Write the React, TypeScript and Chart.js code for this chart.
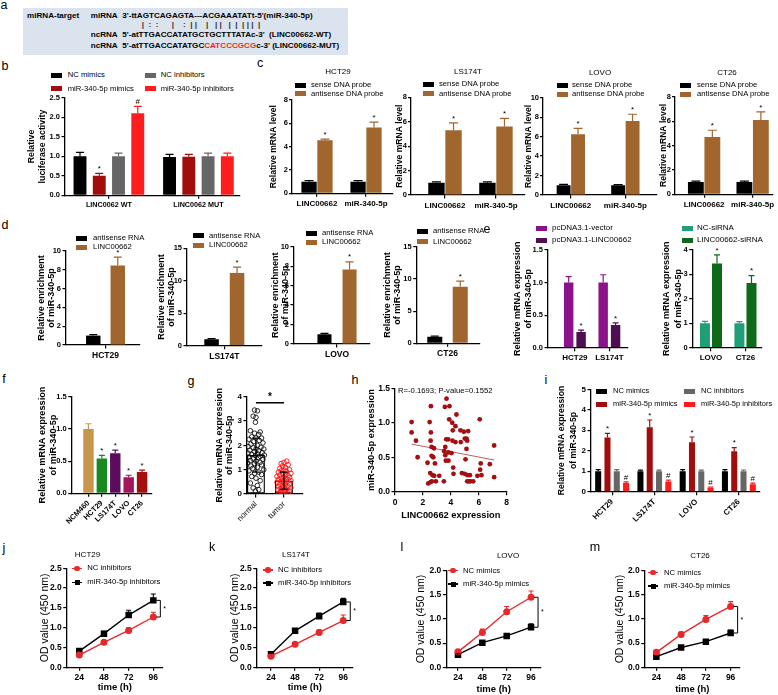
import React, { useEffect, useRef } from 'react';
import { Chart, registerables } from 'chart.js';
Chart.register(...registerables);

const FF = '"Liberation Sans", Arial, Helvetica, sans-serif';

// ================= DATA =================
// a: sequence alignment
const aMiRNA = "3'-ttAGTCAGAGTA---ACGAAATATt-5'(miR-340-5p)";
const aPairs = '|  :  :      |    :  | |    |   | |   |  |  | | |  |';
const aWT = "5'-atTTGACCATATGCTGCTTTATAc-3'  (LINC00662-WT)";
const aMUTpre = "5'-atTTGACCATATGC";
const aMUTred = 'CATCCCGCG';
const aMUTpost = "c-3' (LINC00662-MUT)";

// b: luciferase
const bGroups = ['LINC0062 WT', 'LINC0062 MUT'];
const bSeries = ['NC mimics', 'miR-340-5p mimics', 'NC inhibitors', 'miR-340-5p inhibitors'];
const bNCMimics = [1.0, 0.98];
const bNCMimicsErr = [0.1, 0.07];
const bMiMimics = [0.5, 0.99];
const bMiMimicsErr = [0.06, 0.06];
const bNCInhib = [1.0, 1.0];
const bNCInhibErr = [0.08, 0.08];
const bMiInhib = [2.1, 1.0];
const bMiInhibErr = [0.18, 0.08];
const bMiMimicsMarks = ['*', ''];
const bMiInhibMarks = ['#', ''];
const bYTicks = [0, 0.5, 1.0, 1.5, 2.0, 2.5];

// c: RNA pull-down
const cGroups = ['LINC00662', 'miR-340-5p'];
const cSeries = ['sense DNA probe', 'antisense DNA probe'];
const cSenseHCT29 = [1.0, 1.0];
const cSenseHCT29Err = [0.08, 0.08];
const cAntiHCT29 = [4.55, 5.65];
const cAntiHCT29Err = [0.1, 0.45];
const cSenseLS174T = [1.0, 1.0];
const cSenseLS174TErr = [0.07, 0.07];
const cAntiLS174T = [5.3, 5.6];
const cAntiLS174TErr = [0.6, 0.68];
const cSenseLOVO = [1.0, 1.0];
const cSenseLOVOErr = [0.1, 0.07];
const cAntiLOVO = [6.25, 7.6];
const cAntiLOVOErr = [0.6, 0.7];
const cSenseCT26 = [1.0, 1.0];
const cSenseCT26Err = [0.08, 0.08];
const cAntiCT26 = [4.7, 6.1];
const cAntiCT26Err = [0.55, 0.65];
const cMarks = ['*', '*'];
const cTicks8 = [0, 2, 4, 6, 8];
const cTicks10 = [0, 2, 4, 6, 8, 10];

// d: RIP enrichment
const dCells = ['HCT29', 'LS174T', 'LOVO', 'CT26'];
const dSeries = ['antisense RNA', 'LINC00662'];
const dAntisense = [1.0, 1.0, 1.0, 1.0];
const dAntisenseErr = [0.1, 0.1, 0.1, 0.1];
const dLINC = [8.45, 11.2, 7.65, 8.8];
const dLINCErr = [0.9, 0.9, 0.8, 0.85];
const dTicks10 = [0, 2, 4, 6, 8, 10];
const dTicks15 = [0, 5, 10, 15];

// e: overexpression / knockdown
const e1Groups = ['HCT29', 'LS174T'];
const e1Series = ['pcDNA3.1-vector', 'pcDNA3.1-LINC00662'];
const e1Vector = [1.0, 1.0];
const e1VectorErr = [0.09, 0.12];
const e1LINC = [0.24, 0.35];
const e1LINCErr = [0.03, 0.03];
const e2Groups = ['LOVO', 'CT26'];
const e2Series = ['NC-siRNA', 'LINC00662-siRNA'];
const e2NC = [1.0, 1.0];
const e2NCErr = [0.08, 0.07];
const e2Si = [3.45, 2.65];
const e2SiErr = [0.35, 0.3];
const e1Ticks = [0, 0.5, 1.0, 1.5];
const e2Ticks = [0, 1, 2, 3, 4];

// f: cell lines
const fCells = ['NCM460', 'HCT29', 'LS174T', 'LOVO', 'CT26'];
const fValues = [1.0, 0.54, 0.62, 0.25, 0.33];
const fErr = [0.08, 0.05, 0.05, 0.03, 0.03];
const fMarks = ['', '*', '*', '*', '*'];
const fTicks = [0, 0.5, 1.0, 1.5];

// g: tissues
const gGroups = ['normal', 'tumor'];
const gMeans = [1.6, 0.55];
const gSD = [0.7, 0.35];
const gNormalPts = [
  [-0.05, 3.45], [0.05, 3.42], [-0.1, 3.2], [0.0, 3.15], [-0.02, 2.95], [-0.2, 2.6], [0.15, 2.55], [-0.05, 2.5],
  [0.1, 2.45], [-0.15, 2.35], [0.2, 2.3], [0.0, 2.3], [-0.25, 2.25], [0.12, 2.2], [-0.08, 2.15], [0.25, 2.1],
  [-0.18, 2.05], [0.05, 2.0], [-0.28, 1.95], [0.18, 1.92], [-0.1, 1.9], [0.28, 1.85], [0.0, 1.85], [-0.22, 1.8],
  [0.1, 1.78], [-0.05, 1.75], [0.22, 1.7], [-0.28, 1.68], [0.05, 1.65], [-0.15, 1.62], [0.3, 1.6], [-0.02, 1.58],
  [0.15, 1.55], [-0.25, 1.52], [0.08, 1.5], [-0.1, 1.45], [0.25, 1.42], [-0.2, 1.38], [0.0, 1.35], [0.15, 1.3],
  [-0.3, 1.28], [-0.05, 1.25], [0.2, 1.2], [-0.18, 1.15], [0.05, 1.1], [-0.12, 1.05], [0.28, 1.0], [-0.25, 0.95],
  [0.1, 0.9], [-0.05, 0.85], [0.2, 0.8], [-0.15, 0.72], [0.0, 0.65], [0.15, 0.55], [-0.2, 0.45], [0.05, 0.35],
  [-0.1, 0.25], [0.1, 0.18], [-0.02, 0.12],
];
const gTumorPts = [
  [1.1, 1.35], [1.0, 1.3], [0.9, 1.25], [1.15, 1.2], [0.95, 1.15], [1.05, 1.1], [0.85, 1.05], [1.2, 1.0],
  [1.0, 0.98], [0.9, 0.95], [1.1, 0.92], [0.8, 0.9], [1.25, 0.85], [0.95, 0.85], [1.05, 0.8], [0.85, 0.78],
  [1.15, 0.75], [0.75, 0.72], [1.0, 0.7], [1.2, 0.68], [0.9, 0.65], [1.1, 0.62], [0.8, 0.6], [1.0, 0.58],
  [1.25, 0.55], [0.9, 0.52], [1.1, 0.5], [0.75, 0.48], [1.0, 0.45], [1.2, 0.42], [0.85, 0.4], [1.05, 0.38],
  [0.95, 0.35], [1.15, 0.32], [0.8, 0.3], [1.0, 0.28], [1.25, 0.25], [0.9, 0.22], [1.1, 0.2], [0.78, 0.18],
  [1.0, 0.15], [1.2, 0.12], [0.88, 0.1], [1.05, 0.08], [0.95, 0.05], [1.15, 0.04], [0.82, 0.03],
];
const gTicks = [0, 1, 2, 3, 4];

// h: correlation
const hPoints = [
  [1.19, 1.01], [1.19, 0.86], [1.5, 0.74], [1.62, 0.5],
  [2.57, 1.24], [2.48, 1.01], [2.57, 0.86], [2.55, 0.74], [2.62, 0.65], [2.79, 0.63], [2.62, 0.52], [2.74, 0.5],
  [2.33, 0.42], [2.86, 0.41], [2.52, 0.27], [2.69, 0.24], [2.81, 0.23], [2.38, 0.12], [2.55, 0.14], [2.64, 0.15],
  [2.93, 0.15], [3.17, 0.23], [3.5, 0.15],
  [3.69, 1.35], [3.57, 1.23], [3.9, 1.24], [4.4, 1.12], [3.88, 1.05], [4.1, 1.0], [4.33, 0.95], [3.67, 0.76],
  [3.81, 0.76], [4.14, 0.89], [4.12, 0.74], [4.33, 0.72], [3.52, 0.59], [3.6, 0.65], [3.83, 0.57], [4.05, 0.56],
  [3.6, 0.53], [3.64, 0.45], [3.83, 0.45], [4.17, 0.35], [4.19, 0.26],
  [4.69, 0.89], [4.93, 0.87], [5.24, 0.88], [5.0, 0.77], [5.12, 0.77], [5.17, 0.74], [4.71, 0.72], [5.12, 0.62],
  [5.05, 0.47], [4.79, 0.27], [5.0, 0.26], [5.19, 0.24], [5.36, 0.24], [5.17, 0.15], [5.29, 0.15], [5.4, 0.15],
  [5.6, 0.15], [5.9, 0.23], [6.19, 0.24], [6.07, 1.05], [6.14, 0.41], [6.1, 0.32],
  [7.1, 0.67], [6.79, 0.4], [7.1, 0.21],
];
const hFit = [[1.2, 0.69], [7.1, 0.46]];
const hXTicks = [0, 2, 4, 6, 8];
const hYTicks = [0, 0.5, 1.0, 1.5];

// i: mimics / inhibitors
const iGroups = ['HCT29', 'LS174T', 'LOVO', 'CT26'];
const iNCMimics = [1.0, 1.0, 1.0, 1.0];
const iNCMimicsErr = [0.08, 0.05, 0.08, 0.08];
const iMiMimics = [2.65, 3.15, 2.42, 1.97];
const iMiMimicsErr = [0.2, 0.35, 0.25, 0.18];
const iNCInhib = [1.0, 1.0, 1.0, 1.0];
const iNCInhibErr = [0.08, 0.05, 0.05, 0.06];
const iMiInhib = [0.43, 0.5, 0.2, 0.36];
const iMiInhibErr = [0.05, 0.07, 0.03, 0.06];
const iMimicMarks = ['*', '*', '*', '*'];
const iInhibMarks = ['#', '#', '#', '#'];
const iTicks = [0, 1, 2, 3, 4, 5];

// j-m: CCK-8 growth curves
const times = [24, 48, 72, 96];
const jNC = [0.31, 0.63, 0.93, 1.27];
const jNCErr = [0.03, 0.04, 0.07, 0.12];
const jInhib = [0.41, 0.85, 1.32, 1.69];
const jInhibErr = [0.03, 0.06, 0.12, 0.16];
const kNC = [0.28, 0.58, 0.88, 1.18];
const kNCErr = [0.03, 0.04, 0.07, 0.14];
const kInhib = [0.33, 0.92, 1.29, 1.65];
const kInhibErr = [0.03, 0.06, 0.08, 0.09];
const lNC = [0.32, 0.72, 1.15, 1.45];
const lNCErr = [0.03, 0.07, 0.11, 0.13];
const lMimics = [0.26, 0.51, 0.65, 0.83];
const lMimicsErr = [0.02, 0.03, 0.04, 0.07];
const mNC = [0.31, 0.68, 0.99, 1.26];
const mNCErr = [0.03, 0.05, 0.08, 0.1];
const mMimics = [0.22, 0.41, 0.53, 0.71];
const mMimicsErr = [0.02, 0.04, 0.04, 0.06];
const jkTicks = [0, 0.5, 1.0, 1.5, 2.0, 2.5];
const lmTicks = [0, 0.5, 1.0, 1.5, 2.0];

// ================= STYLE =================
const BLACK = '#000000';
const DKRED = '#a10d0d';
const GREY = '#666666';
const RED = '#ff1c1c';
const BROWN = '#a0662e';
const PURPLE = '#8c128c';
const DKPURPLE = '#4e0f50';
const TEAL = '#1f9f78';
const DKGREEN = '#0d6a18';
const LRED = '#e8282b';
const DOTRED = '#a50f12';
const F_COLORS = ['#c8954c', '#178a22', '#5c0c5c', '#a3155e', '#a41010'];

const fix1 = (v: number) => v.toFixed(1);

// ================= PLUGINS =================
const errPlugin = {
  id: 'errbars',
  afterDatasetsDraw(chart: any) {
    const ctx = chart.ctx;
    chart.data.datasets.forEach((ds: any, di: number) => {
      if (!ds.errors) return;
      const meta = chart.getDatasetMeta(di);
      const ys = chart.scales[meta.yAxisID];
      meta.data.forEach((el: any, i: number) => {
        const e = ds.errors[i];
        if (e == null) return;
        const raw = ds.data[i];
        const v = typeof raw === 'number' ? raw : raw.y;
        const x = el.x;
        const yv = ys.getPixelForValue(v);
        const yt = ys.getPixelForValue(v + e);
        const yb = ds.errBoth ? ys.getPixelForValue(v - e) : yv;
        const cap = (ds.errCap ?? 6) / 2;
        const col = ds.errColor ?? (Array.isArray(ds.backgroundColor) ? ds.backgroundColor[i] : ds.backgroundColor);
        ctx.save();
        ctx.strokeStyle = col;
        ctx.lineWidth = ds.errWidth ?? 1.2;
        ctx.beginPath();
        ctx.moveTo(x, yb);
        ctx.lineTo(x, yt);
        ctx.moveTo(x - cap, yt);
        ctx.lineTo(x + cap, yt);
        if (ds.errBoth) {
          ctx.moveTo(x - cap, yb);
          ctx.lineTo(x + cap, yb);
        }
        ctx.stroke();
        const m = ds.marks && ds.marks[i];
        if (m) {
          ctx.fillStyle = '#000';
          ctx.font = `${ds.markSize ?? 8}px ${FF}`;
          ctx.textAlign = 'center';
          ctx.textBaseline = 'bottom';
          ctx.fillText(m, x, yt - 0.5);
        }
        ctx.restore();
      });
    });
  },
};

const annoPlugin = {
  id: 'anno',
  afterDatasetsDraw(chart: any, _args: any, opts: any) {
    const ctx = chart.ctx;
    const xs = chart.scales.x;
    const ys = chart.scales.y;
    if (opts && opts.sig) {
      const s = opts.sig;
      const xa = xs.getPixelForValue(s.x0);
      const xb = xs.getPixelForValue(s.x1);
      const y = ys.getPixelForValue(s.y);
      ctx.save();
      ctx.strokeStyle = '#000';
      ctx.lineWidth = 1.5;
      ctx.beginPath();
      ctx.moveTo(xa, y);
      ctx.lineTo(xb, y);
      ctx.stroke();
      ctx.fillStyle = '#000';
      ctx.font = `bold 10px ${FF}`;
      ctx.textAlign = 'center';
      ctx.textBaseline = 'bottom';
      ctx.fillText(s.text, (xa + xb) / 2, y - 1);
      ctx.restore();
    }
    if (opts && opts.bracket) {
      const b = opts.bracket;
      const px = xs.getPixelForValue(b.x) + b.dx;
      const ya = ys.getPixelForValue(b.v1);
      const yb = ys.getPixelForValue(b.v2);
      ctx.save();
      ctx.strokeStyle = '#000';
      ctx.lineWidth = 1;
      ctx.beginPath();
      ctx.moveTo(px - b.w, ya);
      ctx.lineTo(px, ya);
      ctx.lineTo(px, yb);
      ctx.lineTo(px - b.w, yb);
      ctx.stroke();
      ctx.fillStyle = '#000';
      ctx.font = `7px ${FF}`;
      ctx.textAlign = 'left';
      ctx.textBaseline = 'middle';
      ctx.fillText(b.text, px + 3, (ya + yb) / 2);
      ctx.restore();
    }
  },
};

// ================= BUILDER =================
type Ax = {
  min: number; max: number; ticks: number[]; label?: (v: number) => string;
  size?: number; weight?: string; rotate?: number; pad?: number; tickLen?: number;
  title?: string | string[]; tSize?: number; tWeight?: string; tLH?: number; titleY?: number;
};

function build(o: any) {
  const [x0, y0, x1, y1] = o.plot;
  const ylh = (o.y.tSize ?? 9) * (o.y.tLH ?? 1.2);
  const left = o.left ?? (o.titleX - ylh / 2 - 2);
  const L = Math.floor(left);
  const T = Math.floor(o.top);
  const R = Math.ceil(o.right);
  const B = Math.ceil(o.bottom);
  const W = R - L;
  const H = B - T;
  const yw = x0 - L;
  const xh = B - y1;
  const yPad = o.titleX != null ? o.titleX - L - ylh / 2 : 2;
  const xlh = (o.x.tSize ?? 9) * (o.x.tLH ?? 1.2);
  const xPad = o.x.titleY != null ? B - o.x.titleY - xlh / 2 : 2;

  const axis = (a: Ax, isX: boolean) => ({
    type: 'linear',
    min: a.min,
    max: a.max,
    offset: false,
    grace: 0,
    afterBuildTicks: (s: any) => { s.ticks = a.ticks.map((v) => ({ value: v })); },
    afterFit: (s: any) => { if (isX) s.height = xh; else s.width = yw; },
    ticks: {
      autoSkip: false,
      callback: (v: any) => (a.label ? a.label(Number(v)) : String(v)),
      font: { family: FF, size: a.size ?? 8, weight: a.weight ?? 'bold' },
      color: '#000',
      padding: a.pad ?? (isX ? 2 : 1.5),
      maxRotation: a.rotate ?? 0,
      minRotation: a.rotate ?? 0,
    },
    grid: { display: true, drawOnChartArea: false, drawTicks: true, tickLength: a.tickLen ?? 3.5, color: '#000', lineWidth: 1.2, offset: false },
    border: { display: true, color: '#000', width: 1.3 },
    title: a.title
      ? {
          display: true,
          text: a.title,
          color: '#000',
          font: { family: FF, size: a.tSize ?? 9, weight: a.tWeight ?? 'bold', lineHeight: a.tLH ?? 1.2 },
          padding: isX ? { top: 0, bottom: xPad } : { top: yPad, bottom: 0 },
        }
      : { display: false },
  });

  return {
    style: { position: 'absolute' as const, left: L, top: T, width: W, height: H },
    width: W,
    height: H,
    config: () => ({
      type: o.type,
      data: { datasets: o.datasets() },
      options: {
        responsive: false,
        maintainAspectRatio: false,
        animation: false,
        devicePixelRatio: 1,
        events: [],
        layout: { padding: { left: 0, top: y0 - T, right: R - x1, bottom: 0 } },
        plugins: { legend: { display: false }, tooltip: { enabled: false }, title: { display: false }, anno: o.anno ?? {} },
        scales: { x: axis(o.x, true), y: axis(o.y, false) },
      },
      plugins: [errPlugin, annoPlugin],
    }),
  };
}

const barDs = (vals: number[], errs: number[], color: any, cat: number, bar: number, cap: number, marks?: string[]) => ({
  type: 'bar',
  data: vals.map((v, i) => ({ x: i, y: v })),
  backgroundColor: color,
  borderWidth: 0,
  categoryPercentage: cat,
  barPercentage: bar,
  errors: errs,
  errCap: cap,
  marks,
});

const lineDs = (vals: number[], errs: number[], color: string, style: string, radius: number) => ({
  type: 'line',
  data: times.map((t, i) => ({ x: t, y: vals[i] })),
  borderColor: color,
  backgroundColor: color,
  pointBackgroundColor: color,
  pointBorderColor: color,
  pointStyle: style,
  pointRadius: radius,
  borderWidth: 1.4,
  errors: errs,
  errColor: color,
  errCap: 5,
  errWidth: 1.1,
});

// ================= CHART SPECS =================
const catLabel = (arr: string[]) => (v: number) => arr[v] ?? '';

const specB = build({
  plot: [65, 97.7, 240, 195.3], titleX: 31.7, top: 85, right: 247, bottom: 215, type: 'bar',
  x: { min: -0.49, max: 1.464, ticks: [0, 1], label: catLabel(bGroups), size: 7.2 },
  y: { min: 0, max: 2.5, ticks: bYTicks, label: fix1, size: 7.5, title: ['Relative', 'luciferase activity'], tSize: 8.8, tLH: 1.25 },
  datasets: () => [
    barDs(bNCMimics, bNCMimicsErr, BLACK, 0.86, 0.67, 8),
    barDs(bMiMimics, bMiMimicsErr, DKRED, 0.86, 0.67, 8, bMiMimicsMarks),
    barDs(bNCInhib, bNCInhibErr, GREY, 0.86, 0.67, 8),
    barDs(bMiInhib, bMiInhibErr, RED, 0.86, 0.67, 8, bMiInhibMarks),
  ],
});

const cSpec = (plot: number[], titleX: number, right: number, xmin: number, xmax: number, ymax: number, ticks: number[], sense: number[], senseErr: number[], anti: number[], antiErr: number[], cat: number) =>
  build({
    plot, titleX, top: 88, right, bottom: 213, type: 'bar',
    x: { min: xmin, max: xmax, ticks: [0, 1], label: catLabel(cGroups), size: 8 },
    y: { min: 0, max: ymax, ticks, size: 7.5, title: 'Relative mRNA level', tSize: 8.6, tickLen: 3, pad: 1 },
    datasets: () => [
      barDs(sense, senseErr, BLACK, cat, 0.96, 9),
      barDs(anti, antiErr, BROWN, cat, 0.96, 9, cMarks),
    ],
  });

const specC1 = cSpec([292, 100, 393, 193.3], 274, 399, -0.51, 1.55, 8, cTicks8, cSenseHCT29, cSenseHCT29Err, cAntiHCT29, cAntiHCT29Err, 0.65);
const specC2 = cSpec([411, 97.3, 525, 195], 399.5, 531, -0.667, 1.57, 8, cTicks8, cSenseLS174T, cSenseLS174TErr, cAntiLS174T, cAntiLS174TErr, 0.67);
const specC3 = cSpec([543, 97.7, 657, 195], 528.5, 663, -0.51, 1.58, 10, cTicks10, cSenseLOVO, cSenseLOVOErr, cAntiLOVO, cAntiLOVOErr, 0.53);
const specC4 = cSpec([675, 96.7, 773, 194.3], 664, 778, -0.6, 1.42, 8, cTicks8, cSenseCT26, cSenseCT26Err, cAntiCT26, cAntiCT26Err, 0.68);

const dSpec = (k: number, plot: number[], titleX: number, xmax: number, ymax: number, ticks: number[], cat: number, bar: number) =>
  build({
    plot, titleX, top: plot[1] - 10, right: plot[2] + 8, bottom: 366, type: 'bar',
    x: { min: -1, max: xmax, ticks: [0], label: () => dCells[k], size: 8.5 },
    y: { min: 0, max: ymax, ticks, size: 7.5, title: ['Relative enrichment', 'of miR-340-5p'], tSize: 9, tLH: 1.11 },
    datasets: () => [
      barDs([dAntisense[k]], [dAntisenseErr[k]], BLACK, cat, bar, 8),
      barDs([dLINC[k]], [dLINCErr[k]], BROWN, cat, bar, 8, ['*']),
    ],
  });

const specD1 = dSpec(0, [66, 251, 140, 345], 42, 0.873, 10, dTicks10, 0.662, 0.59);
const specD2 = dSpec(1, [187, 248.3, 262, 345.7], 162, 1.01, 15, dTicks15, 0.68, 0.57);
const specD3 = dSpec(2, [294, 246.7, 370, 344], 276, 0.767, 10, dTicks10, 0.66, 0.56);
const specD4 = dSpec(3, [416.7, 246.7, 480, 343.3], 388, 1.055, 15, dTicks15, 0.805, 0.59);

const specE1 = build({
  plot: [548, 250, 628, 347.7], titleX: 518, top: 240, right: 640, bottom: 366, type: 'bar',
  x: { min: -0.78, max: 1.54, ticks: [0, 1], label: catLabel(e1Groups), size: 8 },
  y: { min: 0, max: 1.5, ticks: e1Ticks, label: fix1, size: 7.5, title: ['Relative mRNA expression', 'of miR-340-5p'], tSize: 9, tLH: 1.22 },
  datasets: () => [
    barDs(e1Vector, e1VectorErr, PURPLE, 0.72, 0.76, 6),
    barDs(e1LINC, e1LINCErr, DKPURPLE, 0.72, 0.76, 6, ['*', '*']),
  ],
});

const specE2 = build({
  plot: [692.7, 250, 762, 347.7], titleX: 667, top: 240, right: 776, bottom: 366, type: 'bar',
  x: { min: -0.53, max: 1.48, ticks: [0, 1], label: catLabel(e2Groups), size: 8 },
  y: { min: 0, max: 4, ticks: e2Ticks, size: 7.5, title: ['Relative mRNA expression', 'of miR-340-5p'], tSize: 9, tLH: 1.3 },
  datasets: () => [
    barDs(e2NC, e2NCErr, TEAL, 0.7, 0.83, 6),
    barDs(e2Si, e2SiErr, DKGREEN, 0.7, 0.83, 6, ['*', '*']),
  ],
});

const specF = build({
  plot: [71.7, 396.7, 152, 493.3], titleX: 42, top: 386, right: 162, bottom: 548, type: 'bar',
  x: { min: -1.25, max: 4.74, ticks: [0, 1, 2, 3, 4], label: catLabel(fCells), size: 7.5, rotate: 45 },
  y: { min: 0, max: 1.5, ticks: fTicks, label: fix1, size: 7.5, title: ['Relative mRNA expression', 'of miR-340-5p'], tSize: 9.2, tLH: 1.2 },
  datasets: () => [barDs(fValues, fErr, F_COLORS, 1, 0.78, 6, fMarks)],
});

const specG = build({
  plot: [247, 396.7, 303, 494], titleX: 220, top: 380, right: 312, bottom: 548, type: 'bar',
  x: { min: -0.32, max: 1.68, ticks: [0, 1], label: catLabel(gGroups), size: 8, weight: 'normal', rotate: 45 },
  y: { min: 0, max: 4, ticks: gTicks, size: 8, title: ['Relative mRNA expression', 'of miR-340-5p'], tSize: 9, tLH: 1.1 },
  anno: { sig: { x0: 0, x1: 1, y: 3.75, text: '*' } },
  datasets: () => [
    {
      type: 'scatter',
      data: gNormalPts.map(([x, y]) => ({ x, y })),
      pointRadius: 2.3,
      pointBackgroundColor: 'rgba(0,0,0,0)',
      pointBorderColor: '#111',
      pointBorderWidth: 0.9,
    },
    {
      type: 'scatter',
      data: gTumorPts.map(([x, y]) => ({ x, y })),
      pointRadius: 2.3,
      pointBackgroundColor: 'rgba(0,0,0,0)',
      pointBorderColor: '#ff1010',
      pointBorderWidth: 0.9,
    },
    {
      type: 'bar',
      data: gMeans.map((v, i) => ({ x: i, y: v })),
      backgroundColor: 'rgba(0,0,0,0)',
      borderColor: '#000',
      borderWidth: 1.2,
      borderSkipped: false,
      categoryPercentage: 0.64,
      barPercentage: 1,
      errors: gSD,
      errBoth: true,
      errColor: '#000',
      errCap: 8,
    },
  ],
});

const specH = build({
  plot: [395, 388.3, 506.7, 491.7], titleX: 371, top: 378, right: 516, bottom: 524, type: 'scatter',
  x: { min: 0, max: 8, ticks: hXTicks, size: 8.5, title: 'LINC00662 expression', tSize: 9.3, titleY: 515 },
  y: { min: 0, max: 1.5, ticks: hYTicks, label: fix1, size: 8.5, title: 'miR-340-5p expression', tSize: 9.3 },
  datasets: () => [
    {
      type: 'scatter',
      data: hPoints.map(([x, y]) => ({ x, y })),
      pointRadius: 2.4,
      pointBackgroundColor: DOTRED,
      pointBorderColor: DOTRED,
      pointBorderWidth: 0,
    },
    {
      type: 'line',
      data: hFit.map(([x, y]) => ({ x, y })),
      borderColor: '#c85a5a',
      borderWidth: 1,
      pointRadius: 0,
      showLine: true,
      fill: false,
    },
  ],
});

const specI = build({
  plot: [591, 389.3, 760, 491.7], titleX: 562, top: 380, right: 776, bottom: 548, type: 'bar',
  x: { min: -0.5, max: 3.5, ticks: [0, 1, 2, 3], label: catLabel(iGroups), size: 8, rotate: 45 },
  y: { min: 0, max: 5, ticks: iTicks, size: 8, title: ['Relative mRNA expression', 'of miR-340-5p'], tSize: 8.6, tLH: 1.4 },
  datasets: () => [
    barDs(iNCMimics, iNCMimicsErr, BLACK, 0.88, 0.65, 5),
    barDs(iMiMimics, iMiMimicsErr, DKRED, 0.88, 0.65, 5, iMimicMarks),
    barDs(iNCInhib, iNCInhibErr, GREY, 0.88, 0.65, 5),
    barDs(iMiInhib, iMiInhibErr, RED, 0.88, 0.65, 5, iInhibMarks),
  ],
});

const growthSpec = (plot: number[], titleX: number, xmin: number, xmax: number, ymax: number, ticks: number[], red: number[], redErr: number[], blk: number[], blkErr: number[], titleY: number) =>
  build({
    plot, titleX, top: plot[1] - 10, right: plot[2] + 14, bottom: 699, type: 'line',
    x: { min: xmin, max: xmax, ticks: times, size: 8.5, title: 'time (h)', tSize: 9.5, titleY },
    y: { min: 0, max: ymax, ticks, label: fix1, size: 8.5, title: 'OD value (450 nm)', tSize: 10.5, tWeight: 'normal' },
    anno: { bracket: { x: 96, v1: blk[3] > red[3] ? blk[3] : red[3], v2: blk[3] > red[3] ? red[3] : blk[3], dx: 7, w: 4, text: '*' } },
    datasets: () => [lineDs(red, redErr, LRED, 'circle', 2.8), lineDs(blk, blkErr, BLACK, 'rect', 3.6)],
  });

const specJ = growthSpec([66.7, 568.3, 163, 667.3], 45, 11.74, 105.4, 2.5, jkTicks, jNC, jNCErr, jInhib, jInhibErr, 687.3);
const specK = growthSpec([256.7, 568.3, 353, 667.3], 235, 9.76, 105.7, 2.5, jkTicks, kNC, kNCErr, kInhib, kInhibErr, 687.3);
const specL = growthSpec([446.3, 570.7, 541, 667.3], 421, 12.5, 105.8, 2.0, lmTicks, lNC, lNCErr, lMimics, lMimicsErr, 689.3);
const specM = growthSpec([644.7, 570.7, 740, 667.3], 619.7, 12.7, 105.1, 2.0, lmTicks, mNC, mNCErr, mMimics, mMimicsErr, 689.3);

const ALL_SPECS = [specB, specC1, specC2, specC3, specC4, specD1, specD2, specD3, specD4, specE1, specE2, specF, specG, specH, specI, specJ, specK, specL, specM];

// ================= COMPONENTS =================
function ChartCanvas({ spec }: { spec: any }) {
  const ref = useRef<HTMLCanvasElement>(null);
  useEffect(() => {
    const chart = new Chart(ref.current as HTMLCanvasElement, spec.config() as any);
    return () => chart.destroy();
  }, [spec]);
  return <canvas ref={ref} width={spec.width} height={spec.height} style={spec.style} />;
}

function Txt({ x, y, children, size = 8, weight = 'normal', align = 'left', color = '#000' }: any) {
  const tx = align === 'center' ? '-50%' : align === 'right' ? '-100%' : '0';
  return (
    <div style={{ position: 'absolute', left: x, top: y, transform: `translate(${tx}, -50%)`, fontSize: size, fontWeight: weight, fontFamily: FF, color, whiteSpace: 'pre', lineHeight: 1 }}>
      {children}
    </div>
  );
}

function LegBox({ x, y, tx, color, label, size = 7.7 }: any) {
  return (
    <>
      <div style={{ position: 'absolute', left: x, top: y - 2.5, width: 10.5, height: 5, background: color }} />
      <Txt x={tx} y={y} size={size}>{label}</Txt>
    </>
  );
}

function LegLine({ x, y, tx, color, label, square, size = 7.7 }: any) {
  return (
    <>
      <div style={{ position: 'absolute', left: x, top: y - 0.75, width: 10, height: 1.5, background: color }} />
      <div style={{ position: 'absolute', left: x + 5 - (square ? 2.5 : 2.7), top: y - (square ? 2.5 : 2.7), width: square ? 5 : 5.4, height: square ? 5 : 5.4, borderRadius: square ? 0 : '50%', background: color }} />
      <Txt x={tx} y={y} size={size}>{label}</Txt>
    </>
  );
}

const Letter = ({ x, y, t }: any) => <Txt x={x} y={y} size={12.5} align="center">{t}</Txt>;

export default function App() {
  return (
    <div style={{ position: 'fixed', left: 0, top: 0, width: 778, height: 695, background: '#fff', overflow: 'hidden', fontFamily: FF }}>
      {/* panel a */}
      <div style={{ position: 'absolute', left: 23, top: 8, width: 325, height: 47, background: '#dbe4ee' }} />
      <Txt x={27} y={16} size={8.1} weight="bold">miRNA-target</Txt>
      <Txt x={90.7} y={16} size={8.1} weight="bold">miRNA</Txt>
      <Txt x={122.3} y={16} size={8.1} weight="bold">{aMiRNA}</Txt>
      <Txt x={141.7} y={25} size={8.1} weight="bold" color="#333">{aPairs}</Txt>
      <Txt x={90.7} y={35} size={8.1} weight="bold">ncRNA</Txt>
      <Txt x={122.3} y={35} size={8.1} weight="bold">{aWT}</Txt>
      <Txt x={90.7} y={46} size={8.1} weight="bold">ncRNA</Txt>
      <Txt x={122.3} y={46} size={8.1} weight="bold">
        {aMUTpre}
        <span style={{ color: '#ff1a1a' }}>{aMUTred}</span>
        {aMUTpost}
      </Txt>

      {ALL_SPECS.map((s, i) => <ChartCanvas key={i} spec={s} />)}

      {/* panel letters */}
      <Letter x={4} y={5} t="a" />
      <Letter x={5} y={66} t="b" />
      <Letter x={260} y={63} t="c" />
      <Letter x={5} y={225} t="d" />
      <Letter x={487} y={229} t="e" />
      <Letter x={4} y={379} t="f" />
      <Letter x={191} y={381} t="g" />
      <Letter x={355} y={380} t="h" />
      <Letter x={546} y={380} t="i" />
      <Letter x={4} y={548} t="j" />
      <Letter x={212} y={547} t="k" />
      <Letter x={402} y={547} t="l" />
      <Letter x={595} y={547} t="m" />

      {/* b legend */}
      <LegBox x={51} y={75} tx={67.7} color={BLACK} label={bSeries[0]} />
      <LegBox x={145} y={75} tx={160.7} color={GREY} label={bSeries[2]} />
      <LegBox x={51} y={88.7} tx={67.7} color={DKRED} label={bSeries[1]} />
      <LegBox x={145} y={88.7} tx={160.7} color={RED} label={bSeries[3]} />

      {/* c titles + legends */}
      <Txt x={338} y={72} size={8} align="center">{dCells[0]}</Txt>
      <Txt x={468} y={72} size={8} align="center">{dCells[1]}</Txt>
      <Txt x={600} y={73} size={8} align="center">{dCells[2]}</Txt>
      <Txt x={727} y={73} size={8} align="center">{dCells[3]}</Txt>
      <LegBox x={295} y={85} tx={311} color={BLACK} label={cSeries[0]} />
      <LegBox x={295} y={93.7} tx={311} color={BROWN} label={cSeries[1]} />
      <LegBox x={423} y={84} tx={439} color={BLACK} label={cSeries[0]} />
      <LegBox x={423} y={93.7} tx={439} color={BROWN} label={cSeries[1]} />
      <LegBox x={557} y={85} tx={572} color={BLACK} label={cSeries[0]} />
      <LegBox x={557} y={94} tx={572} color={BROWN} label={cSeries[1]} />
      <LegBox x={680} y={85} tx={697} color={BLACK} label={cSeries[0]} />
      <LegBox x={680} y={94} tx={697} color={BROWN} label={cSeries[1]} />

      {/* d legends */}
      <LegBox x={76} y={238} tx={93} color={BLACK} label={dSeries[0]} />
      <LegBox x={76} y={247} tx={93} color={BROWN} label={dSeries[1]} />
      <LegBox x={193} y={235.7} tx={209} color={BLACK} label={dSeries[0]} />
      <LegBox x={193} y={245} tx={209} color={BROWN} label={dSeries[1]} />
      <LegBox x={306} y={233} tx={322} color={BLACK} label={dSeries[0]} />
      <LegBox x={306} y={242} tx={322} color={BROWN} label={dSeries[1]} />
      <LegBox x={417} y={231} tx={433} color={BLACK} label={dSeries[0]} />
      <LegBox x={417} y={241.7} tx={433} color={BROWN} label={dSeries[1]} />

      {/* e legends */}
      <LegBox x={536} y={228.3} tx={552} color={PURPLE} label={e1Series[0]} size={8} />
      <LegBox x={536} y={240} tx={552} color={DKPURPLE} label={e1Series[1]} size={8} />
      <LegBox x={682} y={228} tx={697} color={TEAL} label={e2Series[0]} size={8} />
      <LegBox x={682} y={240} tx={697} color={DKGREEN} label={e2Series[1]} size={8} />

      {/* h annotation */}
      <Txt x={398} y={391} size={7.7}>R=-0.1693; P-value=0.1552</Txt>

      {/* i legend */}
      <LegBox x={596} y={391} tx={613} color={BLACK} label={bSeries[0]} size={7.5} />
      <LegBox x={684} y={391} tx={701} color={GREY} label={bSeries[2]} size={7.5} />
      <LegBox x={596} y={404.3} tx={613} color={DKRED} label={bSeries[1]} size={7.5} />
      <LegBox x={684} y={404.3} tx={701} color={RED} label={bSeries[3]} size={7.5} />

      {/* j-m titles + legends */}
      <Txt x={87.5} y={555} size={8} align="center">{dCells[0]}</Txt>
      <Txt x={296} y={555} size={8} align="center">{dCells[1]}</Txt>
      <Txt x={508} y={556} size={8} align="center">{dCells[2]}</Txt>
      <Txt x={700} y={556} size={8} align="center">{dCells[3]}</Txt>
      <LegLine x={72} y={568.3} tx={87.3} color={LRED} label="NC inhibitors" />
      <LegLine x={72} y={582.3} tx={87.3} color={BLACK} label="miR-340-5p inhibitors" square />
      <LegLine x={263} y={570} tx={278} color={LRED} label="NC inhibitors" />
      <LegLine x={263} y={583} tx={278} color={BLACK} label="miR-340-5p inhibitors" square />
      <LegLine x={448} y={570.7} tx={463} color={LRED} label="NC mimics" />
      <LegLine x={448} y={584} tx={463} color={BLACK} label="miR-340-5p mimics" square />
      <LegLine x={648} y={572.7} tx={664} color={LRED} label="NC mimics" />
      <LegLine x={648} y={586} tx={664} color={BLACK} label="miR-340-5p mimics" square />
    </div>
  );
}
